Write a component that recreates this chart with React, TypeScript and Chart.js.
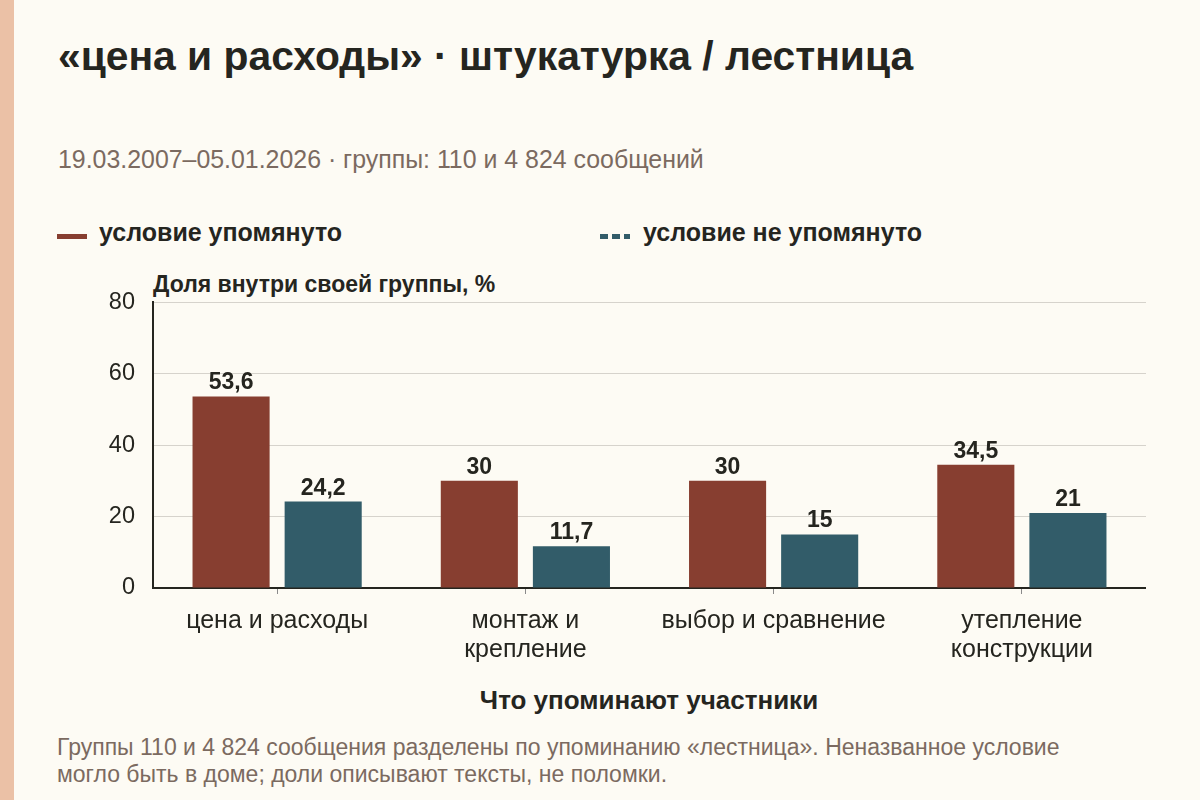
import Chart from "chart.js/auto";
import { useEffect, useRef } from "react";

const categories: string[][] = [
  ["цена и расходы"],
  ["монтаж и", "крепление"],
  ["выбор и сравнение"],
  ["утепление", "конструкции"],
];
const mentioned = [53.6, 30, 30, 34.5];
const notMentioned = [24.2, 11.7, 15, 21];
const seriesNames = ["условие упомянуто", "условие не упомянуто"];
const yTicks = [0, 20, 40, 60, 80];

const RED = "#873e30";
const TEAL = "#325c69";
const INK = "#25251f";
const MUTED = "#7b6a60";
const FONT = '"Liberation Sans", Arial, sans-serif';

const valueLabels = {
  id: "valueLabels",
  afterDatasetsDraw(chart: Chart) {
    const ctx = chart.ctx;
    ctx.save();
    ctx.font = `bold 23px ${FONT}`;
    ctx.fillStyle = INK;
    ctx.textAlign = "center";
    ctx.textBaseline = "alphabetic";
    chart.data.datasets.forEach((ds, i) => {
      chart.getDatasetMeta(i).data.forEach((bar: any, j) => {
        const v = ds.data[j] as number;
        ctx.fillText(String(v).replace(".", ","), bar.x, bar.y - 7);
      });
    });
    ctx.restore();
  },
};

function BarChart() {
  const chartRef = useRef<HTMLCanvasElement | null>(null);

  useEffect(() => {
    if (!chartRef.current) return;
    const ctx = chartRef.current.getContext("2d");
    if (!ctx) return;

    const chart = new Chart(ctx, {
      type: "bar",
      data: {
        labels: categories,
        datasets: [
          { label: seriesNames[0], data: mentioned, backgroundColor: RED },
          { label: seriesNames[1], data: notMentioned, backgroundColor: TEAL },
        ],
      },
      options: {
        animation: false,
        responsive: false,
        maintainAspectRatio: false,
        layout: { padding: 0 },
        datasets: { bar: { categoryPercentage: 0.742, barPercentage: 0.837 } },
        plugins: { legend: { display: false }, tooltip: { enabled: false } },
        scales: {
          x: {
            afterFit: (s: any) => {
              s.height = 80;
            },
            grid: {
              offset: false,
              drawOnChartArea: false,
              drawTicks: true,
              tickLength: 6,
              color: "#8a8a8a",
            },
            border: { color: INK, width: 2 },
            ticks: {
              color: INK,
              padding: 13,
              font: { family: FONT, size: 25, lineHeight: 1.14 },
            },
          },
          y: {
            min: 0,
            max: 80,
            afterBuildTicks: (s: any) => {
              s.ticks = yTicks.map((v) => ({ value: v }));
            },
            afterFit: (s: any) => {
              s.width = 53;
            },
            grid: { color: "#d6d3cc", lineWidth: 1, drawTicks: false },
            border: { color: INK, width: 2 },
            ticks: {
              color: INK,
              padding: 18,
              font: { family: FONT, size: 23.5 },
            },
          },
        },
      },
      plugins: [valueLabels],
    });

    return () => chart.destroy();
  }, []);

  return (
    <canvas
      ref={chartRef}
      width={1046}
      height={398}
      style={{ position: "absolute", left: 100, top: 270, width: 1046, height: 398 }}
    />
  );
}

export default function App() {
  return (
    <div
      style={{
        position: "fixed",
        left: 0,
        top: 0,
        width: 1200,
        height: 800,
        background: "#fdfbf4",
        fontFamily: FONT,
        overflow: "hidden",
      }}
    >
      <div style={{ position: "absolute", left: 0, top: 0, width: 14, height: 800, background: "#ebc1a6" }} />
      <div style={{ position: "absolute", left: 58, top: 33, fontSize: 40.8, fontWeight: 700, color: INK, whiteSpace: "nowrap" }}>
        «цена и расходы» · штукатурка / лестница
      </div>
      <div style={{ position: "absolute", left: 58, top: 145, fontSize: 24.9, color: MUTED, whiteSpace: "nowrap" }}>
        19.03.2007–05.01.2026 · группы: 110 и 4 824 сообщений
      </div>
      <div style={{ position: "absolute", left: 57, top: 234, width: 30, height: 5, background: RED }} />
      <div style={{ position: "absolute", left: 99, top: 218, fontSize: 25, fontWeight: 700, color: INK, whiteSpace: "nowrap" }}>
        {seriesNames[0]}
      </div>
      <div
        style={{
          position: "absolute",
          left: 600,
          top: 234,
          width: 30,
          height: 5,
          background: `repeating-linear-gradient(90deg, ${TEAL} 0 8px, transparent 8px 12px)`,
        }}
      />
      <div style={{ position: "absolute", left: 643, top: 218, fontSize: 25, fontWeight: 700, color: INK, whiteSpace: "nowrap" }}>
        {seriesNames[1]}
      </div>
      <div style={{ position: "absolute", left: 153, top: 271, fontSize: 23, fontWeight: 700, color: INK, whiteSpace: "nowrap" }}>
        Доля внутри своей группы, %
      </div>
      <BarChart />
      <div style={{ position: "absolute", left: 153, width: 992, top: 685, fontSize: 26, fontWeight: 700, color: INK, textAlign: "center" }}>
        Что упоминают участники
      </div>
      <div style={{ position: "absolute", left: 57, top: 734, width: 1100, fontSize: 23, lineHeight: "27px", color: MUTED, whiteSpace: "nowrap" }}>
        Группы 110 и 4 824 сообщения разделены по упоминанию «лестница». Неназванное условие
        <br />
        могло быть в доме; доли описывают тексты, не поломки.
      </div>
    </div>
  );
}
